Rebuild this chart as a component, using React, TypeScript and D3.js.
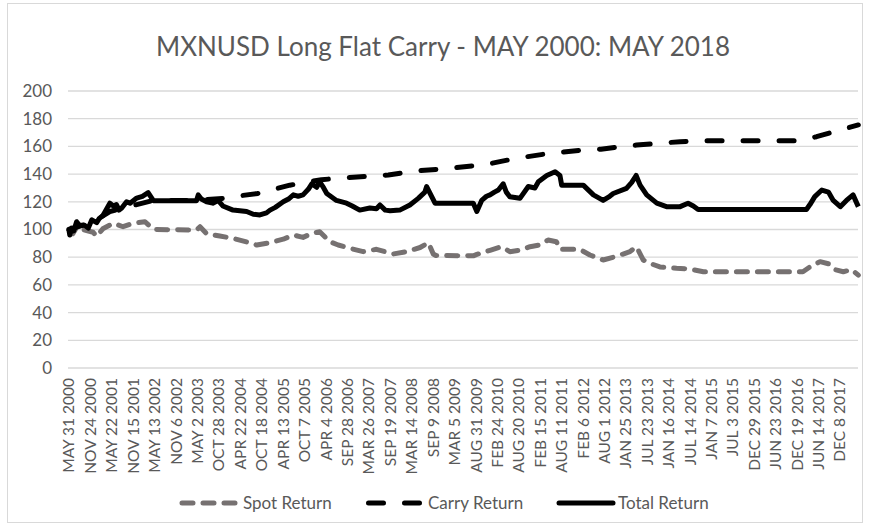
import React from "react";
import * as d3 from "d3";

// values, [decimal year, index]
const spotReturn: [number, number][] = [
  [2000.41, 100], [2000.5, 97], [2000.585, 101.5], [2000.77, 99.6], [2000.96, 98],
  [2001.04, 95], [2001.18, 100.5], [2001.42, 104.5], [2001.64, 102], [2001.87, 104.5],
  [2002.14, 105.6], [2002.33, 100], [2003.31, 99.6], [2003.39, 102], [2003.54, 97],
  [2003.84, 95.3], [2004.14, 93.6], [2004.45, 91], [2004.68, 88.8], [2004.98, 90.5],
  [2005.28, 93], [2005.51, 96], [2005.73, 94.3], [2005.93, 97.2], [2006.11, 98.4],
  [2006.34, 91.2], [2006.53, 88.8], [2006.8, 86.4], [2007.1, 84], [2007.4, 85.7],
  [2007.78, 82.3], [2008.08, 84], [2008.39, 87], [2008.58, 90.5], [2008.69, 82.3],
  [2008.75, 81.2], [2009.6, 81], [2009.68, 82], [2009.98, 85], [2010.24, 87.6],
  [2010.43, 84], [2010.66, 85], [2010.89, 87.6], [2011.11, 88.8], [2011.3, 92.4],
  [2011.49, 91.2], [2011.57, 85.7], [2012.02, 85.7], [2012.25, 81.6], [2012.55, 78],
  [2012.86, 80.7], [2013.16, 84], [2013.3, 87.6], [2013.35, 85], [2013.46, 78],
  [2013.61, 75.6], [2013.84, 73], [2014.22, 72], [2014.52, 71.5], [2014.83, 69.5],
  [2017.09, 69.5], [2017.25, 73], [2017.48, 76.8], [2017.7, 75], [2017.82, 71],
  [2018.01, 69.5], [2018.2, 71], [2018.35, 67],
];

const carryReturn: [number, number][] = [
  [2000.41, 100], [2000.93, 105], [2001.34, 113], [2001.95, 118], [2002.33, 121],
  [2003.31, 121], [2003.91, 122.5], [2004.14, 123.7], [2004.7, 126], [2005.43, 132],
  [2006.15, 136], [2006.87, 137.7], [2007.67, 139.4], [2008.39, 142.5], [2008.99, 144],
  [2009.14, 144.5], [2009.83, 146.6], [2010.58, 151.4], [2011.34, 155], [2012.1, 157.4],
  [2012.5, 158], [2013.31, 161], [2014.3, 163.4], [2014.9, 164], [2016.95, 164],
  [2017.4, 167], [2018.35, 175.5],
];

const totalReturn: [number, number][] = [
  [2000.41, 100], [2000.43, 96], [2000.47, 101], [2000.52, 99], [2000.585, 105.6],
  [2000.65, 103], [2000.77, 103], [2000.85, 101], [2000.93, 107], [2001.04, 105],
  [2001.1, 108], [2001.18, 110], [2001.34, 119], [2001.42, 117], [2001.49, 118],
  [2001.55, 114], [2001.61, 115.5], [2001.72, 120], [2001.8, 119], [2001.95, 122.7],
  [2002.08, 124], [2002.21, 126.6], [2002.33, 120.8], [2003.31, 120.8], [2003.35, 125],
  [2003.42, 122], [2003.54, 120], [2003.68, 119], [2003.8, 121], [2003.91, 117],
  [2004.14, 114], [2004.45, 113], [2004.6, 111], [2004.75, 110.5], [2004.9, 112],
  [2004.98, 114], [2005.1, 116], [2005.28, 120], [2005.4, 122], [2005.51, 125],
  [2005.62, 124], [2005.73, 125], [2005.85, 129], [2005.93, 133], [2006.04, 130.5],
  [2006.11, 134.5], [2006.2, 130], [2006.27, 126], [2006.49, 121], [2006.72, 119],
  [2006.85, 117], [2007.02, 114], [2007.25, 115.5], [2007.4, 115], [2007.48, 117.7],
  [2007.6, 114], [2007.71, 113.6], [2007.93, 114], [2008.16, 117.7], [2008.35, 122.5],
  [2008.5, 127], [2008.54, 131], [2008.73, 119], [2009.6, 119], [2009.68, 113],
  [2009.79, 121], [2009.9, 124], [2009.98, 125], [2010.08, 127], [2010.17, 128.5],
  [2010.28, 133], [2010.35, 127], [2010.43, 123.7], [2010.66, 122.5], [2010.85, 131],
  [2011.0, 130], [2011.08, 134.5], [2011.27, 139], [2011.46, 141.7], [2011.57, 139],
  [2011.61, 132], [2012.1, 132], [2012.33, 125], [2012.55, 121], [2012.7, 124],
  [2012.78, 126], [2013.08, 129.7], [2013.2, 134], [2013.3, 139], [2013.39, 132],
  [2013.54, 125], [2013.77, 119], [2013.99, 116.5], [2014.3, 116.5], [2014.48, 119],
  [2014.6, 117], [2014.71, 114.5], [2017.17, 114.5], [2017.25, 118], [2017.36, 123.7],
  [2017.52, 128.5], [2017.67, 127], [2017.78, 121], [2017.94, 116.5], [2018.08, 121],
  [2018.23, 125], [2018.35, 116.5],
];

const tickLabels = [
  "MAY 31 2000", "NOV 24 2000", "MAY 22 2001", "NOV 15 2001", "MAY 13 2002", "NOV 6 2002",
  "MAY 2 2003", "OCT 28 2003", "APR 22 2004", "OCT 18 2004", "APR 13 2005", "OCT 7 2005",
  "APR 4 2006", "SEP 28 2006", "MAR 26 2007", "SEP 19 2007", "MAR 14 2008", "SEP 9 2008",
  "MAR 5 2009", "AUG 31 2009", "FEB 24 2010", "AUG 20 2010", "FEB 15 2011", "AUG 11 2011",
  "FEB 6 2012", "AUG 1 2012", "JAN 25 2013", "JUL 23 2013", "JAN 16 2014", "JUL 14 2014",
  "JAN 7 2015", "JUL 3 2015", "DEC 29 2015", "JUN 23 2016", "DEC 19 2016", "JUN 14 2017",
  "DEC 8 2017",
];

const yTicks = [0, 20, 40, 60, 80, 100, 120, 140, 160, 180, 200];

const title = "MXNUSD Long Flat Carry - MAY 2000: MAY 2018";

const months = ["JAN", "FEB", "MAR", "APR", "MAY", "JUN", "JUL", "AUG", "SEP", "OCT", "NOV", "DEC"];

const parseLabel = (s: string) => {
  const [m, d, y] = s.split(" ");
  return new Date(+y, months.indexOf(m), +d);
};

const fromYear = (t: number) => {
  const y = Math.floor(t);
  const a = new Date(y, 0, 1).getTime();
  const b = new Date(y + 1, 0, 1).getTime();
  return new Date(a + (t - y) * (b - a));
};

const font = "Lato, 'Open Sans', sans-serif";
const textColor = "#595959";

export default function App() {
  const W = 871;
  const H = 529;
  const left = 68;
  const right = 858;
  const top = 91;
  const bottom = 368;

  const x = d3
    .scaleTime()
    .domain([new Date(2000, 4, 31), new Date(2018, 4, 31)])
    .range([69, 861]);
  const y = d3.scaleLinear().domain([0, 200]).range([bottom, top]);

  const line = d3
    .line<[number, number]>()
    .x((d) => x(fromYear(d[0])))
    .y((d) => y(d[1]));

  const series = [
    { name: "Spot Return", data: spotReturn, color: "#767171", dash: "11 10" },
    { name: "Carry Return", data: carryReturn, color: "#000", dash: "15 21" },
    { name: "Total Return", data: totalReturn, color: "#000", dash: null },
  ];

  const legendPos = [
    { x1: 182, x2: 235, tx: 243 },
    { x1: 368.5, x2: 419.5, tx: 428 },
    { x1: 559, x2: 613, tx: 618 },
  ];

  return (
    <svg
      width={W}
      height={H}
      style={{ position: "absolute", left: 0, top: 0, background: "#fff" }}
      fontFamily={font}
    >
      <rect x={7.5} y={3.5} width={855} height={519} fill="#fff" stroke="#d9d9d9" />
      <text x={443} y={56} textAnchor="middle" fontSize={26} fill={textColor}>
        {title}
      </text>

      {yTicks.map((v) => (
        <g key={v}>
          <line x1={left} x2={right} y1={y(v)} y2={y(v)} stroke="#d9d9d9" strokeWidth={1.3} />
          <text x={52} y={y(v)} dy="0.35em" textAnchor="end" fontSize={17} fill={textColor}>
            {v}
          </text>
        </g>
      ))}

      {tickLabels.map((s) => {
        const px = x(parseLabel(s));
        return (
          <text
            key={s}
            transform={`translate(${px},378) rotate(-90)`}
            dy="0.35em"
            textAnchor="end"
            fontSize={15.5}
            fill={textColor}
          >
            {s}
          </text>
        );
      })}

      {series.map((s) => (
        <path
          key={s.name}
          d={line(s.data) || ""}
          fill="none"
          stroke={s.color}
          strokeWidth={5}
          strokeDasharray={s.dash || undefined}
          strokeLinecap={s.dash ? "round" : "butt"}
          strokeLinejoin="round"
        />
      ))}

      {series.map((s, i) => (
        <g key={s.name}>
          <line
            x1={legendPos[i].x1}
            x2={legendPos[i].x2}
            y1={503}
            y2={503}
            stroke={s.color}
            strokeWidth={5}
            strokeDasharray={s.dash || undefined}
            strokeLinecap="round"
          />
          <text x={legendPos[i].tx} y={503} dy="0.35em" fontSize={17} fill={textColor}>
            {s.name}
          </text>
        </g>
      ))}
    </svg>
  );
}
